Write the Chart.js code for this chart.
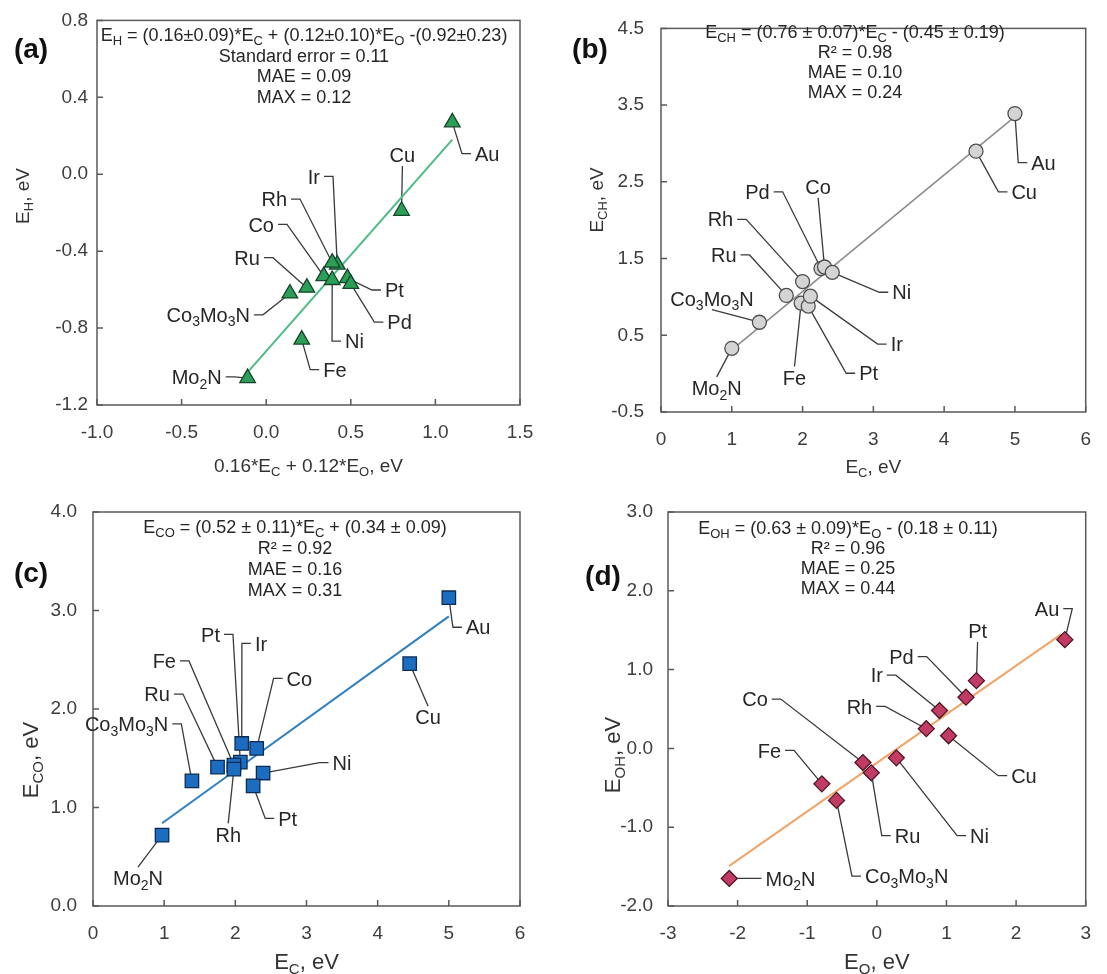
<!DOCTYPE html>
<html><head><meta charset="utf-8">
<script src="https://cdn.jsdelivr.net/npm/chart.js@4.4.0/dist/chart.umd.min.js"></script>
<style>
html,body{margin:0;padding:0;background:#fff;}
#wrap{position:relative;width:1107px;height:974px;overflow:hidden;}
canvas{position:absolute;left:0;top:0;}
</style></head>
<body><div id="wrap">
<canvas id="ca" width="1107" height="974"></canvas>
<canvas id="cb" width="1107" height="974"></canvas>
<canvas id="cc" width="1107" height="974"></canvas>
<canvas id="cd" width="1107" height="974"></canvas>
</div>
<script>
// ---------------- Panel (a) data ----------------
const aNames = ['Au','Cu','Ir','Rh','Co','Ru','Co_3Mo_3N','Pt','Pd','Ni','Fe','Mo_2N'];
const aX = [1.10, 0.80, 0.42, 0.39, 0.34, 0.24, 0.14, 0.48, 0.50, 0.39, 0.21, -0.11];
const aY = [0.27, -0.19, -0.47, -0.46, -0.53, -0.59, -0.62, -0.54, -0.57, -0.55, -0.86, -1.06];
const aFitX = [-0.10, 1.10];
const aFitY = [-1.02, 0.18];
const aXTicks = [-1.0, -0.5, 0.0, 0.5, 1.0, 1.5];
const aYTicks = [-1.2, -0.8, -0.4, 0.0, 0.4, 0.8];
const aEq = ['E_H = (0.16±0.09)*E_C + (0.12±0.10)*E_O -(0.92±0.23)', 'Standard error = 0.11', 'MAE = 0.09', 'MAX = 0.12'];

// ---------------- Panel (b) data ----------------
const bNames = ['Au','Cu','Pd','Co','Rh','Ru','Co_3Mo_3N','Mo_2N','Fe','Pt','Ir','Ni'];
const bX = [5.00, 4.45, 2.26, 2.31, 2.00, 1.77, 1.39, 1.00, 1.98, 2.08, 2.11, 2.42];
const bY = [3.39, 2.90, 1.37, 1.39, 1.20, 1.02, 0.67, 0.33, 0.92, 0.88, 1.01, 1.32];
const bFitX = [1.0, 5.0];
const bFitY = [0.31, 3.35];
const bXTicks = [0, 1, 2, 3, 4, 5, 6];
const bYTicks = [-0.5, 0.5, 1.5, 2.5, 3.5, 4.5];
const bEq = ['E_{CH} = (0.76 ± 0.07)*E_C - (0.45 ± 0.19)', 'R² = 0.98', 'MAE = 0.10', 'MAX = 0.24'];

// ---------------- Panel (c) data ----------------
const cNames = ['Au','Cu','Pt','Ir','Fe','Ru','Co_3Mo_3N','Co','Ni','Pt','Rh','Mo_2N'];
const cX = [5.00, 4.45, 2.07, 2.09, 1.98, 1.75, 1.39, 2.30, 2.39, 2.25, 1.98, 0.97];
const cY = [3.13, 2.46, 1.46, 1.65, 1.43, 1.41, 1.27, 1.60, 1.35, 1.22, 1.39, 0.72];
const cFitX = [0.97, 5.0];
const cFitY = [0.84, 2.94];
const cXTicks = [0, 1, 2, 3, 4, 5, 6];
const cYTicks = [0.0, 1.0, 2.0, 3.0, 4.0];
const cEq = ['E_{CO} = (0.52 ± 0.11)*E_C + (0.34 ± 0.09)', 'R² = 0.92', 'MAE = 0.16', 'MAX = 0.31'];

// ---------------- Panel (d) data ----------------
const dNames = ['Au','Pt','Pd','Ir','Rh','Cu','Co','Fe','Ru','Ni','Co_3Mo_3N','Mo_2N'];
const dX = [2.70, 1.43, 1.28, 0.90, 0.71, 1.03, -0.20, -0.79, -0.08, 0.28, -0.58, -2.12];
const dY = [1.38, 0.86, 0.65, 0.48, 0.25, 0.16, -0.18, -0.45, -0.31, -0.12, -0.66, -1.65];
const dFitX = [-2.12, 2.65];
const dFitY = [-1.49, 1.45];
const dXTicks = [-3, -2, -1, 0, 1, 2, 3];
const dYTicks = [-2.0, -1.0, 0.0, 1.0, 2.0, 3.0];
const dEq = ['E_{OH} = (0.63 ± 0.09)*E_O - (0.18 ± 0.11)', 'R² = 0.96', 'MAE = 0.25', 'MAX = 0.44'];

// ---------------- label placement (annotation layout, data units) ----------------
const aLabX = [1.234, 0.805, 0.318, 0.123, 0.046, -0.037, -0.096, 0.702, 0.716, 0.466, 0.337, -0.263];
const aLabY = [0.107, 0.10, -0.011, -0.129, -0.261, -0.434, -0.731, -0.602, -0.769, -0.868, -1.016, -1.054];
const aLabM = ['R','T','L','L','L','L','L','R','R','R','R','L'];

const bLabX = [5.23, 4.95, 1.535, 2.22, 1.02, 1.067, 0.72, 0.787, 1.886, 2.80, 3.244, 3.267];
const bLabY = [2.75, 2.37, 2.37, 2.434, 2.012, 1.547, 0.977, -0.186, -0.05, 0.005, 0.385, 1.061];
const bLabM = ['R','R','L','T','L','L','T','B','B','R','R','R'];

const cLabX = [5.24, 4.709, 1.784, 2.275, 1.166, 1.081, 1.058, 2.72, 3.366, 2.603, 1.90, 0.632];
const cLabY = [2.83, 1.916, 2.758, 2.667, 2.488, 2.152, 1.848, 2.31, 1.455, 0.889, 0.727, 0.283];
const cLabM = ['R','B','L','R','L','L','L','R','R','R','B','B'];

const dLabX = [2.62, 1.447, 0.529, 0.086, -0.067, 1.929, -1.567, -1.376, 0.257, 1.339, -0.171, -1.6];
const dLabY = [1.775, 1.489, 1.165, 0.929, 0.534, -0.346, 0.626, -0.026, -1.107, -1.107, -1.62, -1.65];
const dLabM = ['L','T','L','L','L','R','L','L','R','R','R','R'];

const FONT = "'Liberation Sans', Arial, Helvetica, sans-serif";

function parseRich(s){
  const segs=[]; let i=0, buf='';
  while(i<s.length){
    const c=s[i];
    if(c==='_'){
      if(buf){segs.push({t:buf,sub:false});buf='';}
      if(s[i+1]==='{'){const j=s.indexOf('}',i);segs.push({t:s.slice(i+2,j),sub:true});i=j+1;}
      else{segs.push({t:s[i+1],sub:true});i+=2;}
    } else {buf+=c;i++;}
  }
  if(buf)segs.push({t:buf,sub:false});
  return segs;
}
function drawRich(ctx,s,x,y,align,size,color,weight){
  const segs=parseRich(s); let w=0;
  const w8=weight||'normal';
  for(const g of segs){ctx.font=`${w8} ${g.sub?Math.round(size*0.7):size}px ${FONT}`;g.w=ctx.measureText(g.t).width;w+=g.w;}
  let sx = align==='center'?x-w/2:(align==='right'?x-w:x);
  const base=y+size*0.36;
  ctx.fillStyle=color; ctx.textBaseline='alphabetic'; ctx.textAlign='left';
  for(const g of segs){
    ctx.font=`${w8} ${g.sub?Math.round(size*0.7):size}px ${FONT}`;
    ctx.fillText(g.t,sx,g.sub?base+size*0.22:base);
    sx+=g.w;
  }
  return w;
}

function makeDeco(P){
  return {
    id:'deco_'+P.id,
    beforeDatasetsDraw(chart){
      const ctx=chart.ctx, xs=chart.scales.x, ys=chart.scales.y;
      ctx.save(); ctx.strokeStyle='#3a3a3a'; ctx.lineWidth=1.3;
      P.names.forEach((n,i)=>{
        const px=xs.getPixelForValue(P.x[i]), py=ys.getPixelForValue(P.y[i]);
        const tx=xs.getPixelForValue(P.lx[i]), ty=ys.getPixelForValue(P.ly[i]);
        const m=P.lm[i], g=4, d=9;
        ctx.beginPath();
        if(m==='L'){ctx.moveTo(tx+g,ty);ctx.lineTo(tx+g+d,ty);ctx.lineTo(px,py);}
        else if(m==='R'){ctx.moveTo(tx-g,ty);ctx.lineTo(tx-g-d,ty);ctx.lineTo(px,py);}
        else if(m==='T'){ctx.moveTo(tx,ty+11);ctx.lineTo(px,py);}
        else {ctx.moveTo(tx,ty-11);ctx.lineTo(px,py);}
        ctx.stroke();
      });
      ctx.restore();
    },
    afterDraw(chart){
      const ctx=chart.ctx, xs=chart.scales.x, ys=chart.scales.y, A=chart.chartArea;
      ctx.save();
      ctx.strokeStyle='#595959'; ctx.lineWidth=1.5;
      ctx.strokeRect(A.left,A.top,A.right-A.left,A.bottom-A.top);
      ctx.beginPath();
      P.xt.forEach(v=>{const px=xs.getPixelForValue(v);ctx.moveTo(px,A.bottom);ctx.lineTo(px,A.bottom-6);});
      P.yt.forEach(v=>{const py=ys.getPixelForValue(v);ctx.moveTo(A.left,py);ctx.lineTo(A.left+6,py);});
      ctx.stroke();
      P.names.forEach((n,i)=>{
        const tx=xs.getPixelForValue(P.lx[i]), ty=ys.getPixelForValue(P.ly[i]);
        const m=P.lm[i];
        const al = m==='L'?'right':(m==='R'?'left':'center');
        drawRich(ctx,n,tx,ty,al,20,'#262626');
      });
      P.eq.forEach((s,i)=>drawRich(ctx,s,P.eqX,P.eqY+i*P.eqDy,'center',18,'#262626'));
      drawRich(ctx,P.xTitle,(A.left+A.right)/2,A.bottom+P.xTitleOff,'center',P.titleSize,'#333');
      ctx.save();
      ctx.translate(A.left-P.yTitleOff,P.yTitleY);
      ctx.rotate(-Math.PI/2);
      drawRich(ctx,P.yTitle,0,0,'center',P.titleSize,'#333');
      ctx.restore();
      drawRich(ctx,P.letter,P.letX,P.letY,'center',28,'#111','bold');
      ctx.restore();
    }
  };
}

function buildPanel(canvasId,P){
  const H=40;
  const cfg={
    type:'scatter',
    data:{datasets:[
      {data:P.x.map((v,i)=>({x:v,y:P.y[i]})),pointStyle:P.ps,pointRadius:P.pr,pointHoverRadius:P.pr,
       backgroundColor:P.fill,borderColor:P.edge,borderWidth:1.3,order:0},
      {type:'line',data:P.fx.map((v,i)=>({x:v,y:P.fy[i]})),borderColor:P.lineColor,borderWidth:P.lineW,
       pointRadius:0,fill:false,tension:0,order:1}
    ]},
    options:{
      responsive:false,animation:false,events:[],
      layout:{autoPadding:false,padding:{left:0,top:P.area.t,right:1107-P.area.r,bottom:974-P.area.b-H}},
      plugins:{legend:{display:false},tooltip:{enabled:false},title:{display:false}},
      scales:{
        x:{type:'linear',min:P.xt[0],max:P.xt[P.xt.length-1],
           afterBuildTicks:s=>{s.ticks=P.xt.map(v=>({value:v}));},
           afterFit:s=>{s.height=H;},
           ticks:{callback:v=>P.xf(v),font:{family:FONT,size:19},color:'#3d3d3d',padding:P.xPad,maxRotation:0,autoSkip:false},
           grid:{display:false,drawTicks:false},border:{display:false}},
        y:{type:'linear',min:P.yt[0],max:P.yt[P.yt.length-1],
           afterBuildTicks:s=>{s.ticks=P.yt.map(v=>({value:v}));},
           afterFit:s=>{s.width=P.area.l;},
           ticks:{callback:v=>P.yf(v),font:{family:FONT,size:19},color:'#3d3d3d',padding:P.yPad,autoSkip:false},
           grid:{display:false,drawTicks:false},border:{display:false}}
      }
    },
    plugins:[makeDeco(P)]
  };
  return new Chart(document.getElementById(canvasId),cfg);
}

const f1=v=>Number(v).toFixed(1), f0=v=>String(Math.round(v));

buildPanel('ca',{id:'a',names:aNames,x:aX,y:aY,fx:aFitX,fy:aFitY,xt:aXTicks,yt:aYTicks,eq:aEq,
  lx:aLabX,ly:aLabY,lm:aLabM,area:{l:97,t:18,r:520,b:405},
  ps:'triangle',pr:9,fill:'#2b9e57',edge:'#16452a',lineColor:'#4dbb84',lineW:2,
  xf:f1,yf:f1,xPad:16,yPad:9,eqX:304,eqY:35,eqDy:20.5,
  xTitle:'0.16*E_C + 0.12*E_O, eV',yTitle:'E_H, eV',titleSize:19,xTitleOff:60,yTitleOff:75,yTitleY:196,
  letter:'(a)',letX:31,letY:48});

buildPanel('cb',{id:'b',names:bNames,x:bX,y:bY,fx:bFitX,fy:bFitY,xt:bXTicks,yt:bYTicks,eq:bEq,
  lx:bLabX,ly:bLabY,lm:bLabM,area:{l:661,t:17,r:1088,b:412},
  ps:'circle',pr:7,fill:'#d4d4d4',edge:'#4d4d4d',lineColor:'#8a8a8a',lineW:1.5,
  xf:f0,yf:f1,xPad:16,yPad:17,eqX:855,eqY:32,eqDy:20,
  xTitle:'E_C, eV',yTitle:'E_{CH}, eV',titleSize:19,xTitleOff:54,yTitleOff:65,yTitleY:200,
  letter:'(b)',letX:590,letY:48});

buildPanel('cc',{id:'c',names:cNames,x:cX,y:cY,fx:cFitX,fy:cFitY,xt:cXTicks,yt:cYTicks,eq:cEq,
  lx:cLabX,ly:cLabY,lm:cLabM,area:{l:93,t:512,r:520,b:906},
  ps:'rect',pr:9.5,fill:'#1c6cc0',edge:'#0b2d55',lineColor:'#2f7fc1',lineW:2,
  xf:f0,yf:f1,xPad:16,yPad:16,eqX:295,eqY:527,eqDy:20.7,
  xTitle:'E_C, eV',yTitle:'E_{CO}, eV',titleSize:22,xTitleOff:55,yTitleOff:63,yTitleY:760,
  letter:'(c)',letX:31,letY:572});

buildPanel('cd',{id:'d',names:dNames,x:dX,y:dY,fx:dFitX,fy:dFitY,xt:dXTicks,yt:dYTicks,eq:dEq,
  lx:dLabX,ly:dLabY,lm:dLabM,area:{l:668,t:512,r:1088,b:906},
  ps:'rectRot',pr:8,fill:'#c23b64',edge:'#4d1526',lineColor:'#f0a468',lineW:2,
  xf:f0,yf:f1,xPad:16,yPad:15,eqX:848,eqY:528,eqDy:20,
  xTitle:'E_O, eV',yTitle:'E_{OH}, eV',titleSize:22,xTitleOff:55,yTitleOff:56,yTitleY:755,
  letter:'(d)',letX:603,letY:575});
</script>
</body></html>
